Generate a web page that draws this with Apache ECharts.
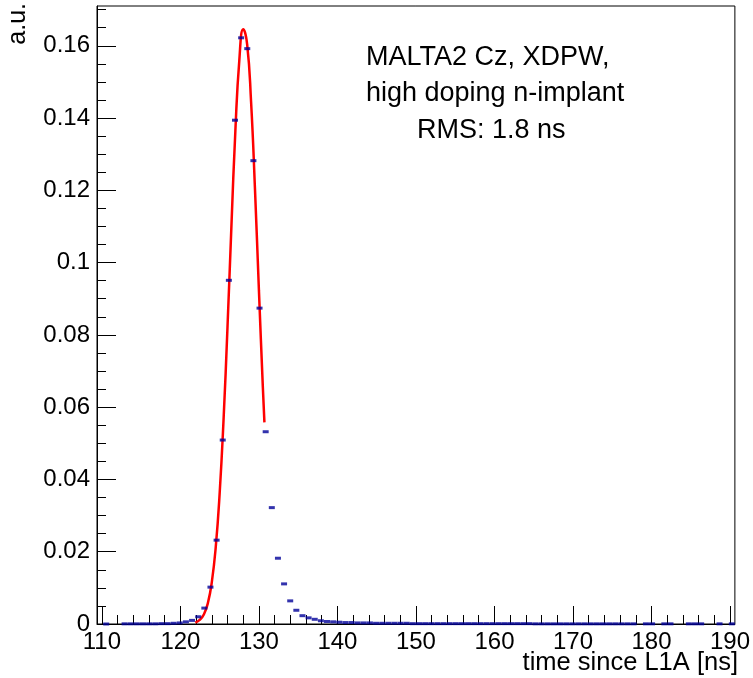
<!DOCTYPE html>
<html>
<head>
<meta charset="utf-8">
<title>MALTA2 timing</title>
<script src="https://cdn.jsdelivr.net/npm/echarts@6/dist/echarts.min.js"></script>
<style>
  html, body { margin: 0; padding: 0; background: #fff; }
  #chart { width: 753px; height: 678px; }
</style>
</head>
<body>
<div id="chart"></div>
<script>
// histogram: 0.78125 ns bins starting at 109.375 ns, null = empty bin
const binStart = 109.375;
const binWidth = 0.78125;
const binValues = [
  null, 0, null, null, 0.00005, 0.00005, 0.00005, 0.00005, 0.00005, 0.00005,
  0.0001, 0.0001, 0.0002, 0.0003, 0.0006, 0.001, 0.002, 0.0044, 0.0102, 0.0232,
  0.0509, 0.0951, 0.1394, 0.1622, 0.1592, 0.1282, 0.0874, 0.0532, 0.0322, 0.0182,
  0.0111, 0.0064, 0.0038, 0.0023, 0.0017, 0.0013, 0.0009, 0.0007, 0.0006, 0.0005,
  0.0004, 0.0004, 0.0003, 0.0003, 0.0003, 0.0002, 0.0002, 0.0002, 0.0002, 0.0002,
  0.0002, 0.0001, 0.0001, 0.0001, 0.0001, 0.0001, 0.0001, 0.0001, 0.0001, 0.0001,
  0.0001, 0.0001, 0.0001, 0.0001, 0.0001, 0.0001, 0.0001, 0.0001, 0.0001, 0.0001,
  0.0001, 0.00005, 0.00005, 0.00005, 0.00005, 0.00005, 0.00005, 0.00005, 0.00005, 0.00005,
  0.00005, 0.00005, 0.00005, 0.00005, 0.00005, 0.00005, 0.00005, 0.00005, null, 0.00005,
  0.00005, null, 0.00005, 0.00005, null, null, 0.00005, 0.00005, 0.00005, null,
  null, 0.00005, null, 0.00005
];

// gaussian fit curve
const fitX = [121.9, 122.5, 123, 123.5, 124, 124.5, 125, 125.5, 126, 126.5, 127, 127.5, 128, 128.5, 129, 129.5, 130, 130.5, 130.7];
const fitY = [0.0004, 0.0012, 0.0027, 0.0058, 0.0116, 0.0213, 0.0362, 0.0568, 0.0823, 0.1103, 0.1365, 0.1559, 0.1646, 0.1604, 0.1445, 0.1202, 0.0923, 0.0655, 0.0558];

const xTicks = [110, 120, 130, 140, 150, 160, 170, 180, 190];
const yTicks = [0, 0.02, 0.04, 0.06, 0.08, 0.1, 0.12, 0.14, 0.16];

const xMinor = [];
for (let v = 112; v < 190; v += 2) if (v % 10 !== 0) xMinor.push(v);
const yMinor = [];
for (let v = 1; v < 35; v++) if (v % 4 !== 0) yMinor.push(+(v * 0.005).toFixed(3));

const points = [];
binValues.forEach(function (v, k) {
  if (v !== null) points.push([binStart + (k + 0.5) * binWidth, v]);
});
const fitData = fitX.map(function (x, i) { return [x, fitY[i]]; });

const font = 'Liberation Sans, Arial, Helvetica, sans-serif';
const chart = echarts.init(document.getElementById('chart'));

const option = {
  animation: false,
  backgroundColor: '#fff',
  grid: {
    left: 97, right: 14, top: 6, bottom: 54,
    show: true, borderColor: '#000', borderWidth: 1, backgroundColor: 'transparent'
  },
  xAxis: [{
    type: 'value',
    min: binStart,
    max: binStart + 104 * binWidth,
    position: 'bottom',
    axisLine: { show: true, onZero: false, lineStyle: { color: '#000', width: 1 } },
    axisTick: { show: true, inside: true, length: 18, customValues: xTicks, lineStyle: { color: '#000' } },
    axisLabel: { customValues: xTicks, color: '#000', fontSize: 24, fontFamily: font, margin: 6 },
    splitLine: { show: false }
  }, {
    type: 'value',
    min: binStart,
    max: binStart + 104 * binWidth,
    position: 'bottom',
    axisLine: { show: false },
    axisTick: { show: true, inside: true, length: 9, customValues: xMinor, lineStyle: { color: '#000' } },
    axisLabel: { show: false },
    splitLine: { show: false }
  }],
  yAxis: [{
    type: 'value',
    min: 0,
    max: 0.171,
    position: 'left',
    axisLine: { show: true, lineStyle: { color: '#000', width: 1 } },
    axisTick: { show: true, inside: true, length: 19, customValues: yTicks, lineStyle: { color: '#000' } },
    axisLabel: { customValues: yTicks, color: '#000', fontSize: 24, fontFamily: font, margin: 7 },
    splitLine: { show: false }
  }, {
    type: 'value',
    min: 0,
    max: 0.171,
    position: 'left',
    axisLine: { show: false },
    axisTick: { show: true, inside: true, length: 9, customValues: yMinor, lineStyle: { color: '#000' } },
    axisLabel: { show: false },
    splitLine: { show: false }
  }],
  graphic: [
    { type: 'text', x: 18, y: 3, rotation: Math.PI / 2,
      style: { text: 'a.u.', fontSize: 25, fontFamily: font, fill: '#000', align: 'right', verticalAlign: 'middle' } },
    { type: 'text', x: 738, y: 663,
      style: { text: 'time since L1A [ns]', fontSize: 25.5, fontFamily: font, fill: '#000', align: 'right', verticalAlign: 'middle' } },
    { type: 'text', x: 366, y: 58,
      style: { text: 'MALTA2 Cz, XDPW,', fontSize: 27, fontFamily: font, fill: '#000', align: 'left', verticalAlign: 'middle' } },
    { type: 'text', x: 366, y: 94,
      style: { text: 'high doping n-implant', fontSize: 27, fontFamily: font, fill: '#000', align: 'left', verticalAlign: 'middle' } },
    { type: 'text', x: 417, y: 131,
      style: { text: 'RMS: 1.8 ns', fontSize: 27, fontFamily: font, fill: '#000', align: 'left', verticalAlign: 'middle' } }
  ],
  series: [{
    name: 'fit',
    type: 'line',
    data: fitData,
    smooth: true,
    showSymbol: false,
    lineStyle: { color: '#ff0000', width: 2.5 },
    z: 2
  }, {
    name: 'data',
    type: 'scatter',
    data: points,
    symbol: 'rect',
    symbolSize: [6, 3],
    itemStyle: { color: '#000099' },
    z: 3
  }]
};

chart.setOption(option);
</script>
</body>
</html>
